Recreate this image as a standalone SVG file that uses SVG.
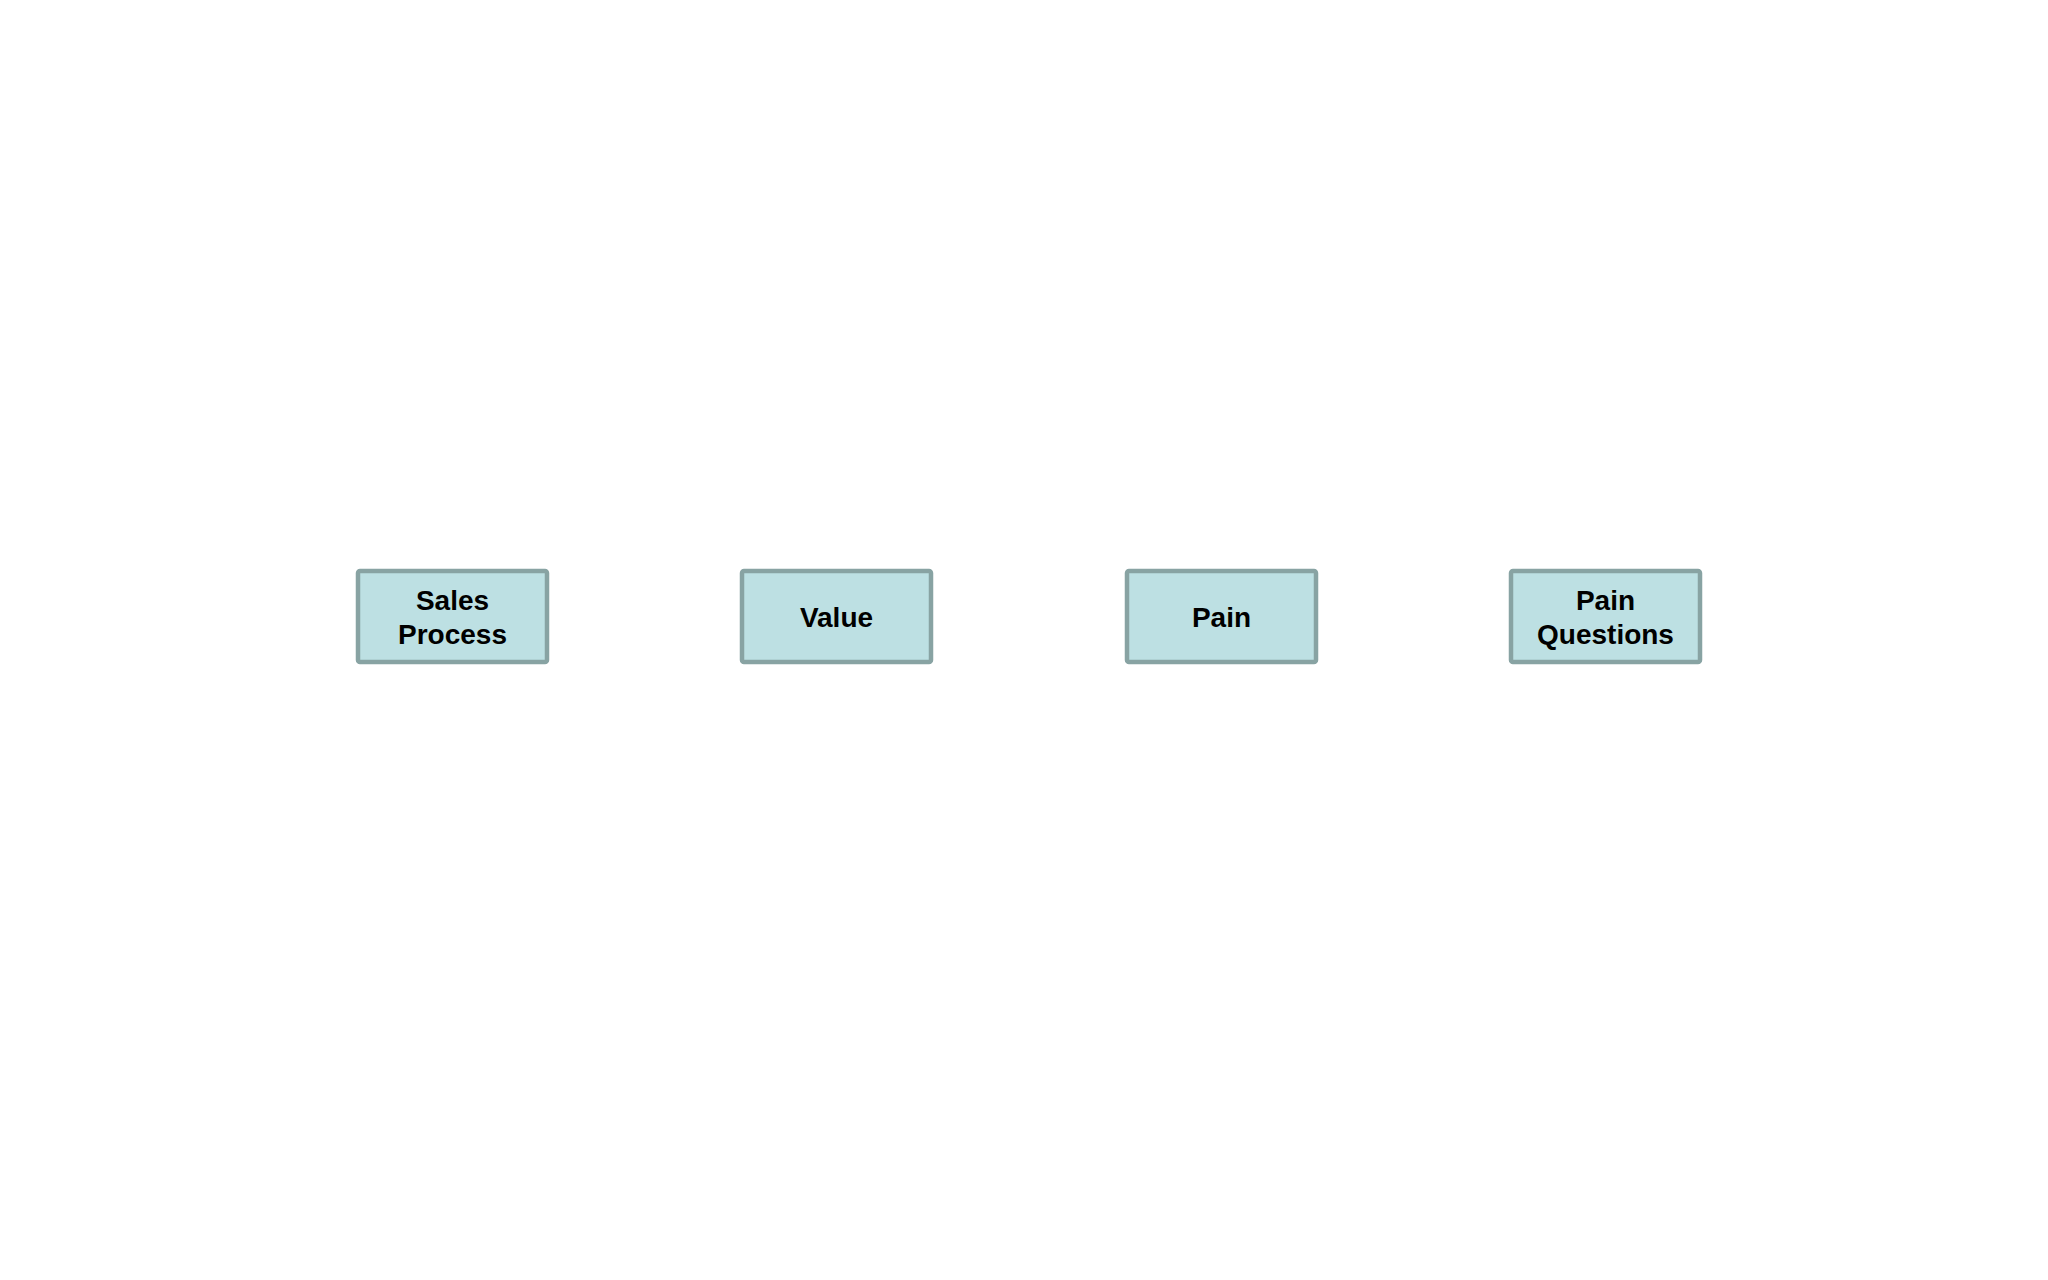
<svg xmlns="http://www.w3.org/2000/svg" width="2048" height="1280" viewBox="0 0 2048 1280">
<style>
.box{fill:#bde0e3;stroke:#88a3a3;stroke-width:4.5}
.lbl{font-family:"Liberation Sans",Arial,sans-serif;font-weight:bold;font-size:28px;fill:#000;text-anchor:middle}
</style>
<rect width="2048" height="1280" fill="#ffffff"/>
<g id="connectors"></g>
<g id="sales-process">
<rect class="box" x="358" y="571" width="189" height="91" rx="2"/>
<text class="lbl" x="452.5" y="610">Sales</text>
<text class="lbl" x="452.5" y="644">Process</text>
</g>
<g id="value">
<rect class="box" x="742" y="571" width="189" height="91" rx="2"/>
<text class="lbl" x="836.5" y="627">Value</text>
</g>
<g id="pain">
<rect class="box" x="1127" y="571" width="189" height="91" rx="2"/>
<text class="lbl" x="1221.5" y="627">Pain</text>
</g>
<g id="pain-questions">
<rect class="box" x="1511" y="571" width="189" height="91" rx="2"/>
<text class="lbl" x="1605.5" y="610">Pain</text>
<text class="lbl" x="1605.5" y="644">Questions</text>
</g>
</svg>
